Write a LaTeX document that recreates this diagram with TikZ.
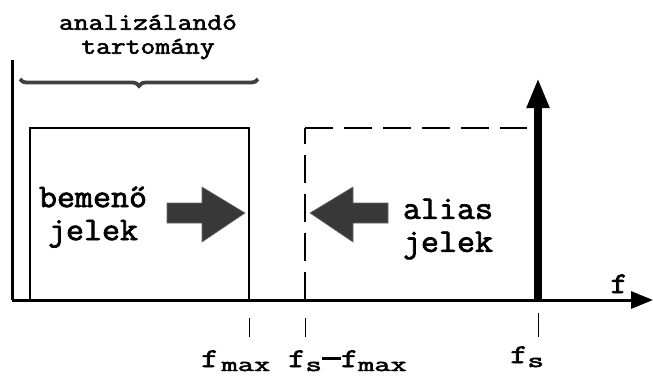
\documentclass[tikz,border=0pt]{standalone}
\usepackage{fontspec}
\usepackage{graphicx}
\newfontfamily\monoB{Latin Modern Mono}[FakeBold=2.2]
\usetikzlibrary{decorations.pathreplacing,arrows.meta}
\newcommand{\bigf}[1]{\scalebox{1.25}[1]{\fontsize{27}{27}\selectfont #1}}
\newcommand{\subsc}[1]{\raisebox{-4pt}{\scalebox{1.5}[1]{\fontsize{21}{21}\selectfont #1}}}
\newcommand{\hdrline}[1]{\scalebox{1.2}[1]{#1}}
\newcommand{\bodyline}[1]{\scalebox{1.06}[1]{#1}}
\begin{document}
\begin{tikzpicture}[x=1pt,y=-1pt,
  lbl/.style={inner sep=0pt,align=center,font=\monoB\fontsize{33}{33}\selectfont},
  hdr/.style={inner sep=0pt,align=center,font=\monoB\fontsize{24}{24}\selectfont},
  flbl/.style={inner sep=0pt,anchor=base west,font=\monoB},
  axisline/.style={line width=3pt},
  boxline/.style={line width=2.6pt},
  tick/.style={line width=0.8pt},
  blockarrow/.style={fill=black!78,draw=black!60,line width=0.6pt}]
\useasboundingbox (0,0) rectangle (653,376);
% axes
\coordinate (o) at (12,300);
\coordinate (top) at (12,60);
\coordinate (xend) at (653,300);
\draw[axisline] (top) -- (o);
\draw[axisline,-{Triangle[width=17pt,length=22pt]}] (o) -- (xend);
\node[inner sep=0pt,anchor=base,font=\monoB\fontsize{30}{30}\selectfont] (f) at (619,293) {\scalebox{1.1}[1]{f}};
% input box
\coordinate (b1) at (30,300);
\coordinate (b2) at (30,128);
\coordinate (b3) at (249,128);
\coordinate (b4) at (249,300);
\draw[boxline] (b1) -- (b2) -- (b3) -- (b4);
% alias dashed box
\coordinate (d1) at (305,300);
\coordinate (d2) at (305,128);
\coordinate (d3) at (527,128);
\draw[boxline,dash pattern=on 28pt off 11pt] (d1) -- (d2);
\draw[boxline,dash pattern=on 28pt off 11pt] (d2) -- (d3);
% fs spike
\coordinate (s0) at (538,300);
\coordinate (s1) at (538,78);
\draw[line width=7.5pt,-{Triangle[width=21pt,length=30pt]}] (s0) -- (s1);
% brace
\coordinate (br1) at (20,79);
\coordinate (br2) at (258,79);
\draw[line width=3.8pt,black!75,decorate,decoration={brace,amplitude=7pt,aspect=0.5,mirror}] (br1) -- (br2);
\node[hdr] (hd) at (148,37) {\hdrline{analizálandó}\\\hdrline{tartomány}};
% texts
\node[lbl] (in) at (93,217) {\bodyline{bemenő}\\\bodyline{jelek}};
\node[lbl] (al) at (448,229) {\bodyline{alias}\\\bodyline{jelek}};
% block arrows
\draw[blockarrow] (167,203) -- (202,203) -- (202,187) -- (245,213) -- (202,242) -- (202,223) -- (167,223) -- cycle;
\draw[blockarrow] (388,203) -- (353,203) -- (353,187) -- (310,213) -- (353,242) -- (353,223) -- (388,223) -- cycle;
% ticks
\coordinate (t1a) at (249,318); \coordinate (t1b) at (249,337);
\coordinate (t2a) at (305,318); \coordinate (t2b) at (305,337);
\coordinate (t3a) at (538,313); \coordinate (t3b) at (538,337);
\draw[tick] (t1a) -- (t1b);
\draw[tick] (t2a) -- (t2b);
\draw[tick] (t3a) -- (t3b);
% labels
\node[flbl] (lfmax) at (201,367) {\bigf{f}\hspace{3pt}\subsc{max}};
\node[flbl] (lfsfmax) at (288,367) {\bigf{f}\subsc{s}\raisebox{7pt}{\rule{19pt}{2.6pt}}\bigf{f}\subsc{max}};
\node[flbl] (lfs) at (510,363) {\bigf{f}\subsc{s}};
\end{tikzpicture}
\end{document}
